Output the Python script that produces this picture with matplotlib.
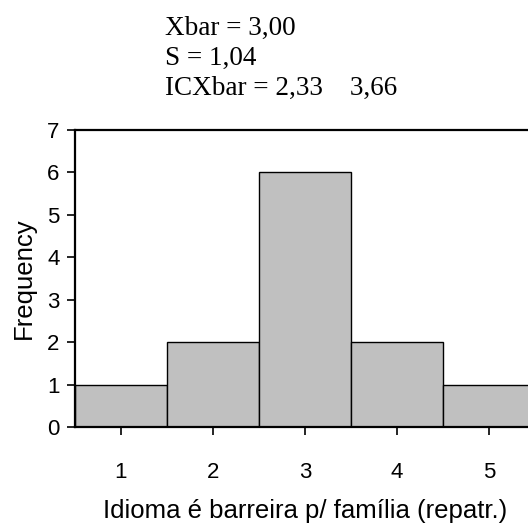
import matplotlib
matplotlib.use("Agg")
import matplotlib.pyplot as plt

categories = [1, 2, 3, 4, 5]
frequencies = [1, 2, 6, 2, 1]
yticks = [0, 1, 2, 3, 4, 5, 6, 7]
stats_lines = ["Xbar = 3,00", "S = 1,04", "ICXbar = 2,33    3,66"]
xlabel = "Idioma é barreira p/ família (repatr.)"
ylabel = "Frequency"

W, H = 528, 526
fig = plt.figure(figsize=(W / 100, H / 100), dpi=100)
left, right = 75, 535
bottom, top = 427, 130
ax = fig.add_axes([left / W, 1 - bottom / H, (right - left) / W, (bottom - top) / H])

ax.bar(categories, frequencies, width=1.0, color="#c0c0c0", edgecolor="black", linewidth=1.0)
ax.set_xlim(0.5, 5.5)
ax.set_ylim(0, 7)
ax.set_xticks(categories)
ax.set_yticks(yticks)
sans = "Liberation Sans"
ax.tick_params(axis="both", labelsize=16, labelfontfamily=sans)
ax.tick_params(axis="x", direction="out", length=6, width=1.2, pad=19)
ax.tick_params(axis="y", direction="out", length=6, width=1.2, pad=5)
for s in ax.spines.values():
    s.set_linewidth(1.6)
ax.set_xlabel(xlabel, fontsize=18.5, family=[sans, "DejaVu Sans"], labelpad=12)
ax.set_ylabel(ylabel, fontsize=18.5, family=[sans, "DejaVu Sans"], labelpad=8)

serif = ["Liberation Serif", "DejaVu Serif"]
baselines = [35, 65, 95]
for t, y in zip(stats_lines, baselines):
    fig.text(165 / W, 1 - y / H, t, fontsize=19.5, family=serif, va="baseline", ha="left")

fig.savefig("out.png", dpi=100)
